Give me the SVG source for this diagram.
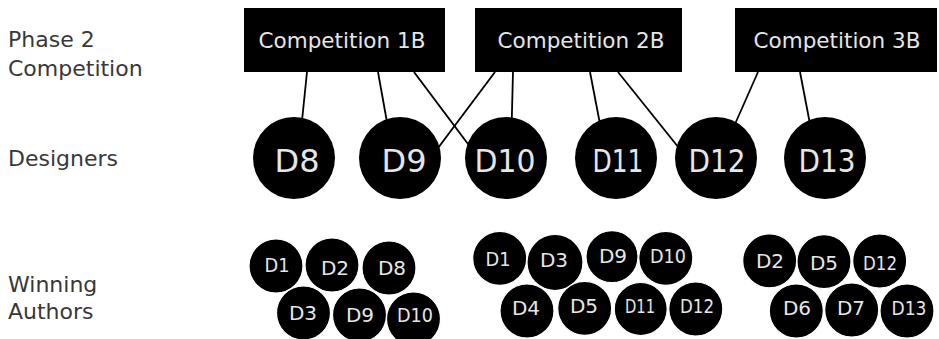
<svg xmlns="http://www.w3.org/2000/svg" width="939" height="339" viewBox="0 0 939 339">
  <style>
    .label { font-family: "DejaVu Sans", "Liberation Sans", sans-serif; font-size: 22px; fill: #383838; }
    .box { fill: #000000; }
    .boxtext { font-family: "DejaVu Sans", "Liberation Sans", sans-serif; font-size: 21.5px; fill: #e6e6e6; text-anchor: middle; }
    .designer { fill: #000000; }
    .dtext { font-family: "DejaVu Sans", "Liberation Sans", sans-serif; font-size: 32px; fill: #e6e6e6; text-anchor: middle; }
    .author { fill: #000000; stroke: #ffffff; stroke-width: 1.2; }
    .atext { font-family: "DejaVu Sans", "Liberation Sans", sans-serif; font-size: 20px; fill: #e6e6e6; text-anchor: middle; }
    .link { stroke: #000000; stroke-width: 1.8; fill: none; }
  </style>

  <rect width="939" height="339" fill="#ffffff"/>

  <!-- row labels -->
  <g id="row-labels">
    <text class="label" x="8" y="47">Phase 2</text>
    <text class="label" x="8" y="76">Competition</text>
    <text class="label" x="8" y="166">Designers</text>
    <text class="label" x="8" y="292">Winning</text>
    <text class="label" x="8" y="319">Authors</text>
  </g>

  <!-- connectors: competitions to designers (drawn beneath the nodes) -->
  <g id="connectors">
    <line class="link" x1="307" y1="72" x2="299" y2="150"/>
    <line class="link" x1="378" y1="72" x2="392" y2="150"/>
    <line class="link" x1="414" y1="72" x2="477" y2="156"/>
    <line class="link" x1="495" y1="72" x2="432" y2="156"/>
    <line class="link" x1="513" y1="72" x2="511" y2="150"/>
    <line class="link" x1="590" y1="72" x2="605" y2="150"/>
    <line class="link" x1="618" y1="72" x2="687" y2="158"/>
    <line class="link" x1="758" y1="72" x2="728" y2="140"/>
    <line class="link" x1="800" y1="72" x2="815" y2="150"/>
  </g>

  <!-- competitions -->
  <g id="competition-1b">
    <rect class="box" x="244" y="8" width="201" height="64"/>
    <text class="boxtext" x="342" y="48">Competition 1B</text>
  </g>
  <g id="competition-2b">
    <rect class="box" x="475" y="8" width="207" height="64"/>
    <text class="boxtext" x="581" y="48">Competition 2B</text>
  </g>
  <g id="competition-3b">
    <rect class="box" x="735" y="8" width="202" height="64"/>
    <text class="boxtext" x="837" y="48">Competition 3B</text>
  </g>

  <!-- designers -->
  <g id="designer-d8">
    <circle class="designer" cx="294" cy="158" r="41"/>
    <text class="dtext" x="297" y="172">D8</text>
  </g>
  <g id="designer-d9">
    <circle class="designer" cx="400" cy="158" r="41"/>
    <text class="dtext" x="404" y="172">D9</text>
  </g>
  <g id="designer-d10">
    <circle class="designer" cx="506" cy="158" r="41"/>
    <text class="dtext" x="505" y="172" textLength="61" lengthAdjust="spacingAndGlyphs">D10</text>
  </g>
  <g id="designer-d11">
    <circle class="designer" cx="616" cy="158" r="41"/>
    <text class="dtext" x="618" y="172" textLength="51" lengthAdjust="spacingAndGlyphs">D11</text>
  </g>
  <g id="designer-d12">
    <circle class="designer" cx="716" cy="158" r="41"/>
    <text class="dtext" x="717" y="172" textLength="57" lengthAdjust="spacingAndGlyphs">D12</text>
  </g>
  <g id="designer-d13">
    <circle class="designer" cx="825" cy="158" r="41"/>
    <text class="dtext" x="827" y="172" textLength="57" lengthAdjust="spacingAndGlyphs">D13</text>
  </g>

  <!-- winning authors, competition 1B -->
  <g id="authors-1b">
    <g id="a1b-d1"><circle class="author" cx="276" cy="266" r="27"/><text class="atext" x="277" y="272" textLength="25" lengthAdjust="spacingAndGlyphs">D1</text></g>
    <g id="a1b-d2"><circle class="author" cx="332" cy="265" r="27"/><text class="atext" x="335" y="275">D2</text></g>
    <g id="a1b-d8"><circle class="author" cx="389" cy="268" r="27"/><text class="atext" x="392" y="275">D8</text></g>
    <g id="a1b-d3"><circle class="author" cx="303.5" cy="313" r="27"/><text class="atext" x="303" y="320">D3</text></g>
    <g id="a1b-d9"><circle class="author" cx="359.5" cy="315" r="27"/><text class="atext" x="360" y="322">D9</text></g>
    <g id="a1b-d10"><circle class="author" cx="413.5" cy="319" r="27"/><text class="atext" x="415" y="322" textLength="36" lengthAdjust="spacingAndGlyphs">D10</text></g>
  </g>

  <!-- winning authors, competition 2B -->
  <g id="authors-2b">
    <g id="a2b-d1"><circle class="author" cx="499.7" cy="258.3" r="27"/><text class="atext" x="498" y="266" textLength="25" lengthAdjust="spacingAndGlyphs">D1</text></g>
    <g id="a2b-d3"><circle class="author" cx="555" cy="262.5" r="28"/><text class="atext" x="554" y="267">D3</text></g>
    <g id="a2b-d9"><circle class="author" cx="612" cy="256.7" r="26"/><text class="atext" x="613" y="263">D9</text></g>
    <g id="a2b-d10"><circle class="author" cx="665.8" cy="258.3" r="27"/><text class="atext" x="668" y="263" textLength="36" lengthAdjust="spacingAndGlyphs">D10</text></g>
    <g id="a2b-d4"><circle class="author" cx="527" cy="311" r="27"/><text class="atext" x="526" y="315">D4</text></g>
    <g id="a2b-d5"><circle class="author" cx="584.7" cy="308.3" r="27"/><text class="atext" x="584" y="313">D5</text></g>
    <g id="a2b-d11"><circle class="author" cx="640.7" cy="309" r="26.5"/><text class="atext" x="640" y="313" textLength="30" lengthAdjust="spacingAndGlyphs">D11</text></g>
    <g id="a2b-d12"><circle class="author" cx="695.8" cy="309" r="27"/><text class="atext" x="697" y="313" textLength="34" lengthAdjust="spacingAndGlyphs">D12</text></g>
  </g>

  <!-- winning authors, competition 3B -->
  <g id="authors-3b">
    <g id="a3b-d2"><circle class="author" cx="769.7" cy="260.8" r="27"/><text class="atext" x="770" y="268">D2</text></g>
    <g id="a3b-d5"><circle class="author" cx="824" cy="261.7" r="27"/><text class="atext" x="824" y="270">D5</text></g>
    <g id="a3b-d12"><circle class="author" cx="879.7" cy="261" r="27"/><text class="atext" x="880" y="270" textLength="34" lengthAdjust="spacingAndGlyphs">D12</text></g>
    <g id="a3b-d6"><circle class="author" cx="796.3" cy="311" r="27"/><text class="atext" x="797" y="315">D6</text></g>
    <g id="a3b-d7"><circle class="author" cx="851.7" cy="310" r="27"/><text class="atext" x="851" y="315">D7</text></g>
    <g id="a3b-d13"><circle class="author" cx="907" cy="311" r="27"/><text class="atext" x="909" y="315" textLength="35" lengthAdjust="spacingAndGlyphs">D13</text></g>
  </g>
</svg>
